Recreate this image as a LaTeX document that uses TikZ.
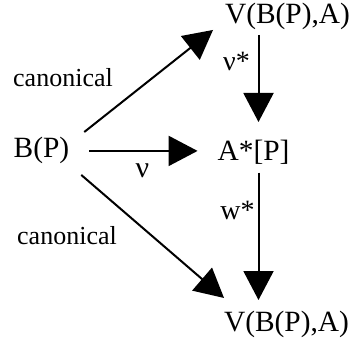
\documentclass[tikz,border=0pt]{standalone}
\usepackage{fontspec}
\setmainfont{Liberation Serif}
\usetikzlibrary{arrows.meta}
\tikzset{
  obj/.style={inner sep=0pt, outer sep=0pt, anchor=base, font=\fontsize{29.4}{35}\selectfont},
  lbl/.style={inner sep=0pt, outer sep=0pt, anchor=base, font=\fontsize{26}{31}\selectfont},
  arr/.style={line width=2pt, -{Triangle[length=29pt,width=30pt]}}
}
\begin{document}
\begin{tikzpicture}[x=1pt,y=1pt]
\useasboundingbox (0,0) rectangle (355,345);
\node[obj] (vtop) at (287.5,321) {V(B(P),A)};
\node[obj] (bp) at (41.5,187) {B(P)};
\node[obj] (as) at (253.5,184) {A*[P]};
\node[obj] (vbot) at (286.5,14) {V(B(P),A)};
\node[lbl] (can1) at (63,258) {canonical};
\node[lbl] (can2) at (67,100) {canonical};
\node[lbl, font=\fontsize{30}{36}\selectfont] (nu) at (142.5,167) {ν};
\node[lbl, font=\fontsize{28}{33}\selectfont] (nustar) at (236.5,274) {ν*};
\node[lbl, font=\fontsize{28}{33}\selectfont] (wstar) at (237.5,125) {w*};
% connectors
\draw[arr] ([shift={(15pt,5.6pt)}]bp.north east) -- ([shift={(-12pt,0.3pt)}]vtop.south west);
\draw[arr, shorten <=20pt, shorten >=20pt] (bp.east) -- (bp.east -| as.west);
\draw[arr, shorten <=4.7pt, shorten >=18.6pt] ([xshift=-29pt]vtop.south) -- ([xshift=-29pt]vtop.south |- as.north);
\draw[arr, shorten <=7.7pt, shorten >=10.6pt] ([xshift=-29pt]vtop.south |- as.south) -- ([xshift=-29pt]vtop.south |- vbot.north);
\draw[arr] ([shift={(12pt,-10.7pt)}]bp.south east) -- ([shift={(0pt,12.6pt)}]vbot.north west);
\end{tikzpicture}
\end{document}
